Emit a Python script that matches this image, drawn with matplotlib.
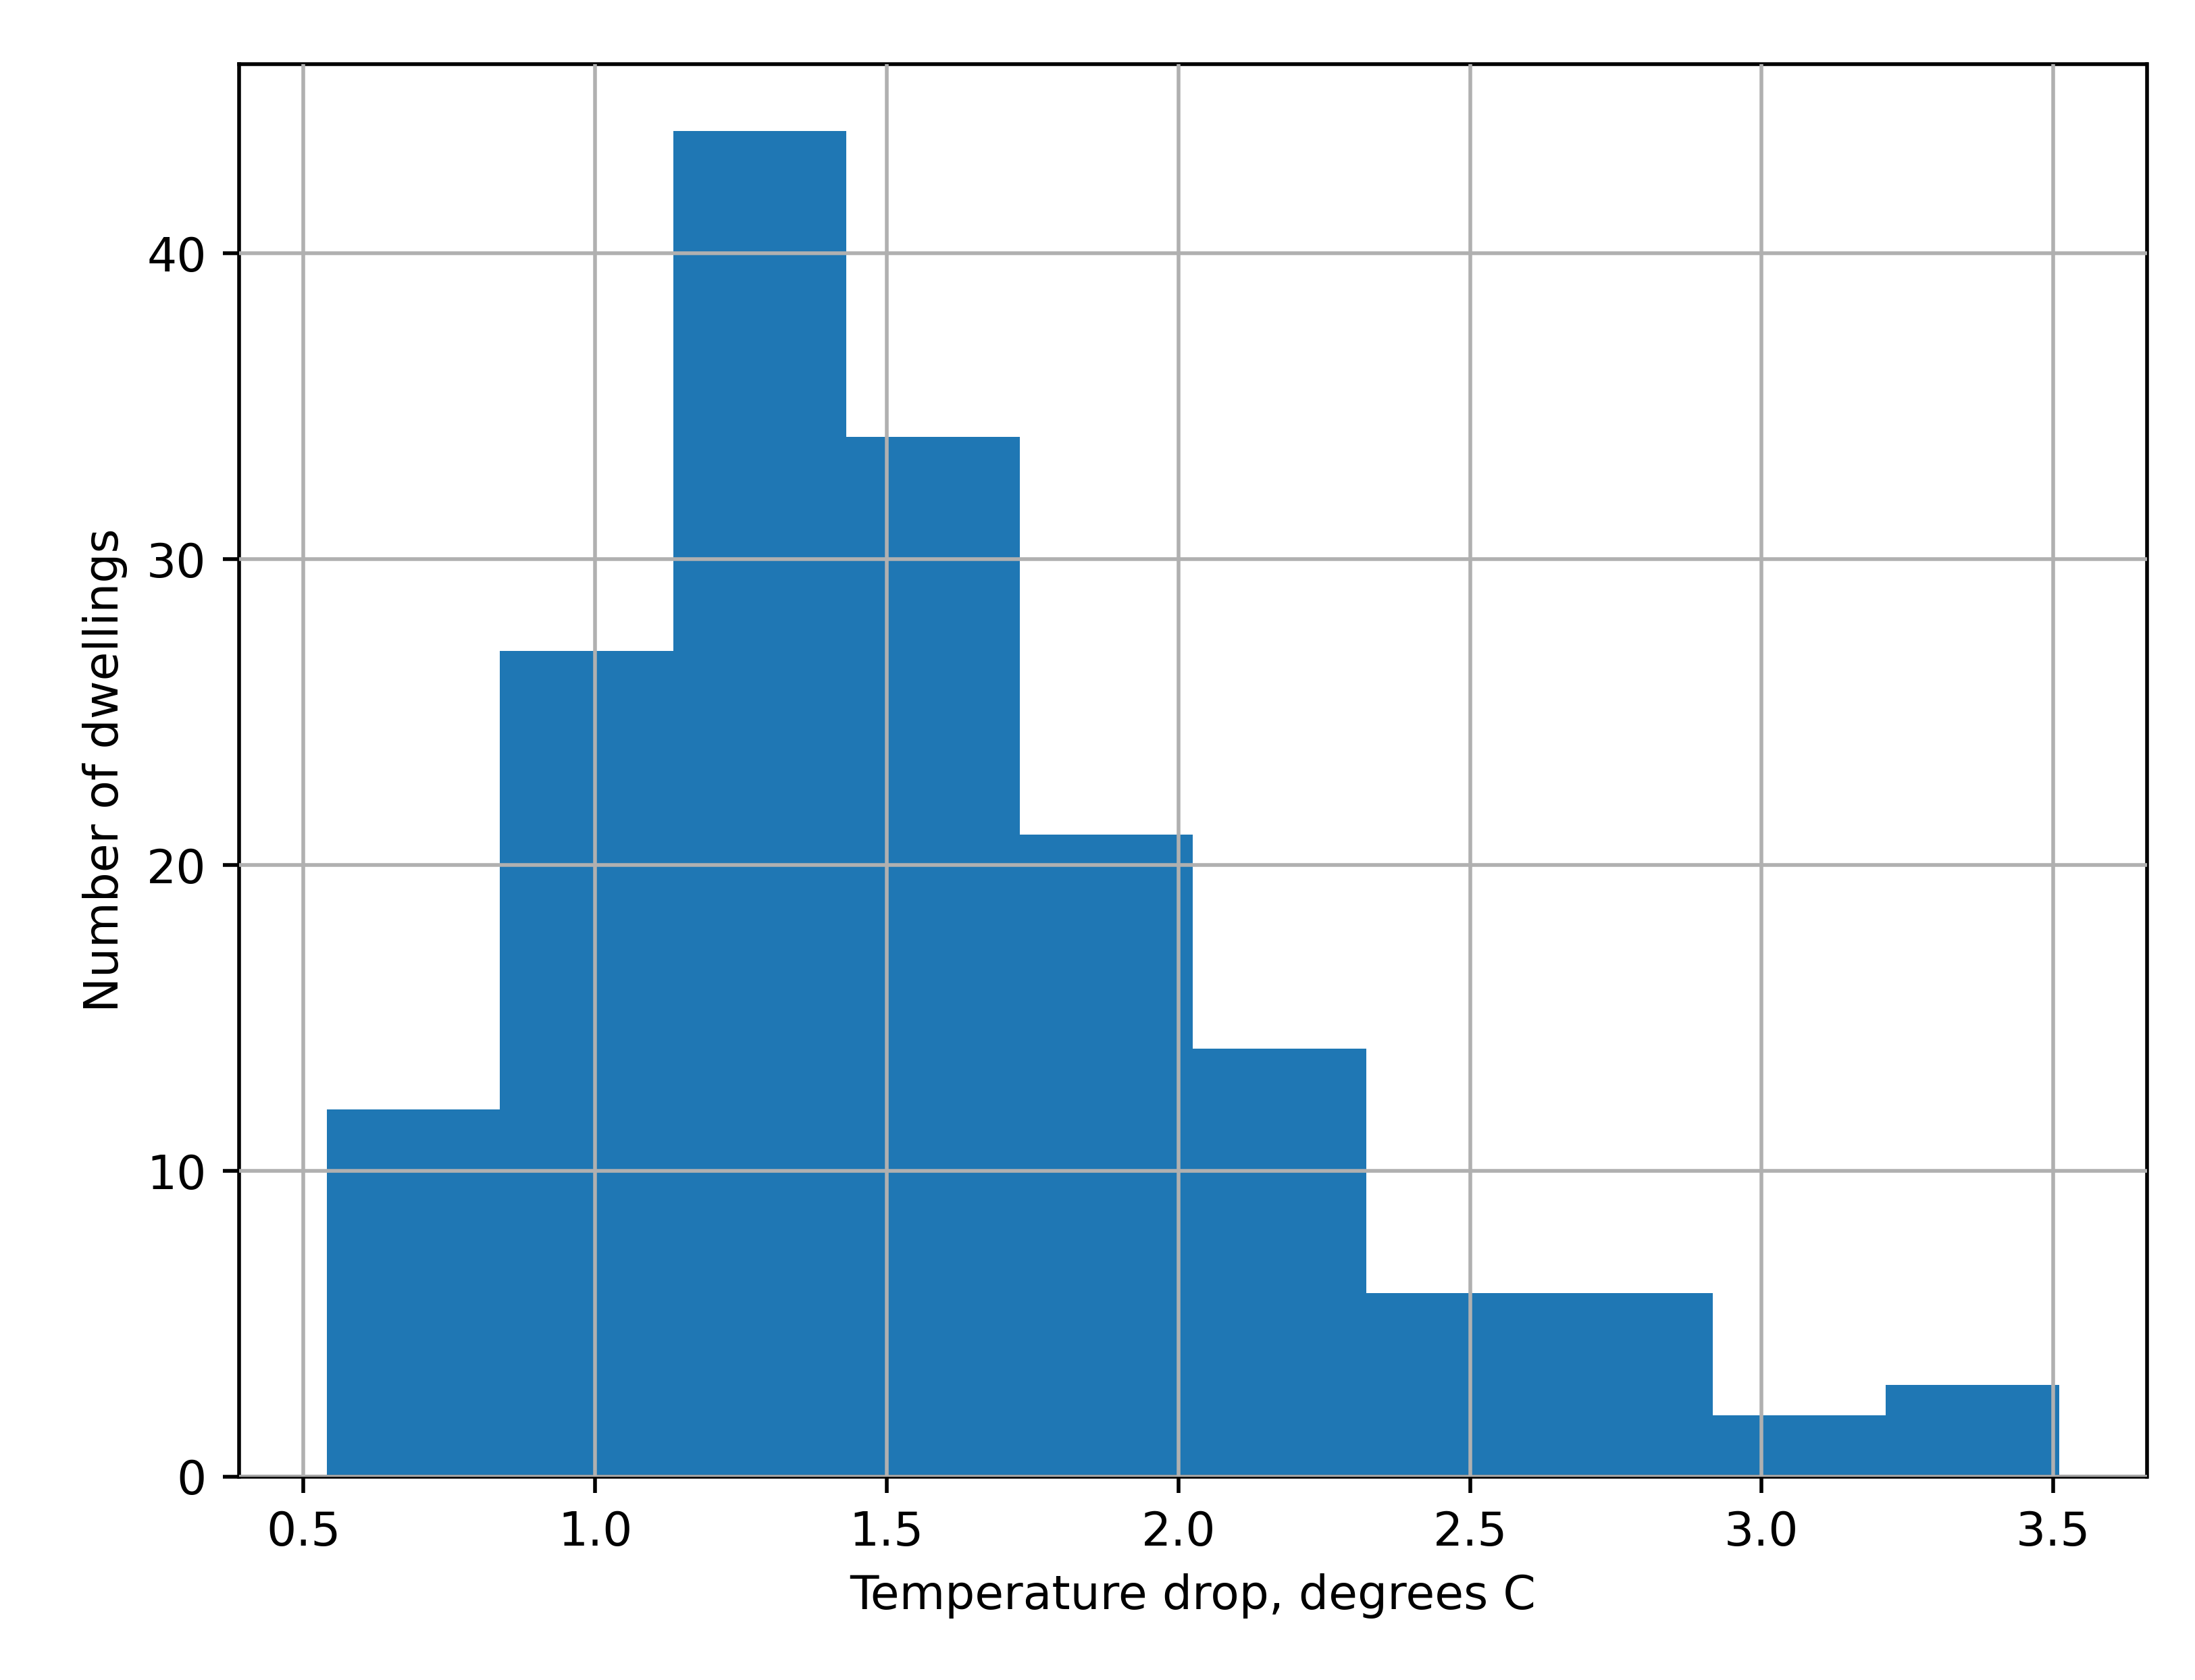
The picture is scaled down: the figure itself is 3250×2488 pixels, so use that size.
import matplotlib.pyplot as plt

# bin edges and counts
bin_edges = [0.54, 0.837, 1.134, 1.431, 1.728, 2.025, 2.322, 2.619, 2.916, 3.213, 3.51]
counts = [12, 27, 44, 34, 21, 14, 6, 6, 2, 3]

fig = plt.figure(figsize=(6.5, 4.976), dpi=500)
ax = fig.add_axes([0.109, 0.121, 0.869, 0.841])

widths = [b - a for a, b in zip(bin_edges[:-1], bin_edges[1:])]
ax.bar(bin_edges[:-1], counts, width=widths, align='edge', color='#1f77b4', zorder=1)
ax.grid(True, color='#b0b0b0', linewidth=0.8, zorder=2)
ax.set_axisbelow(False)

ax.set_xticks([0.5, 1.0, 1.5, 2.0, 2.5, 3.0, 3.5])
ax.set_yticks([0, 10, 20, 30, 40])
ax.set_xlim(0.39, 3.66)
ax.set_ylim(0, 46.2)
ax.set_xlabel('Temperature drop, degrees C')
ax.set_ylabel('Number of dwellings')

fig.savefig('out.png')
